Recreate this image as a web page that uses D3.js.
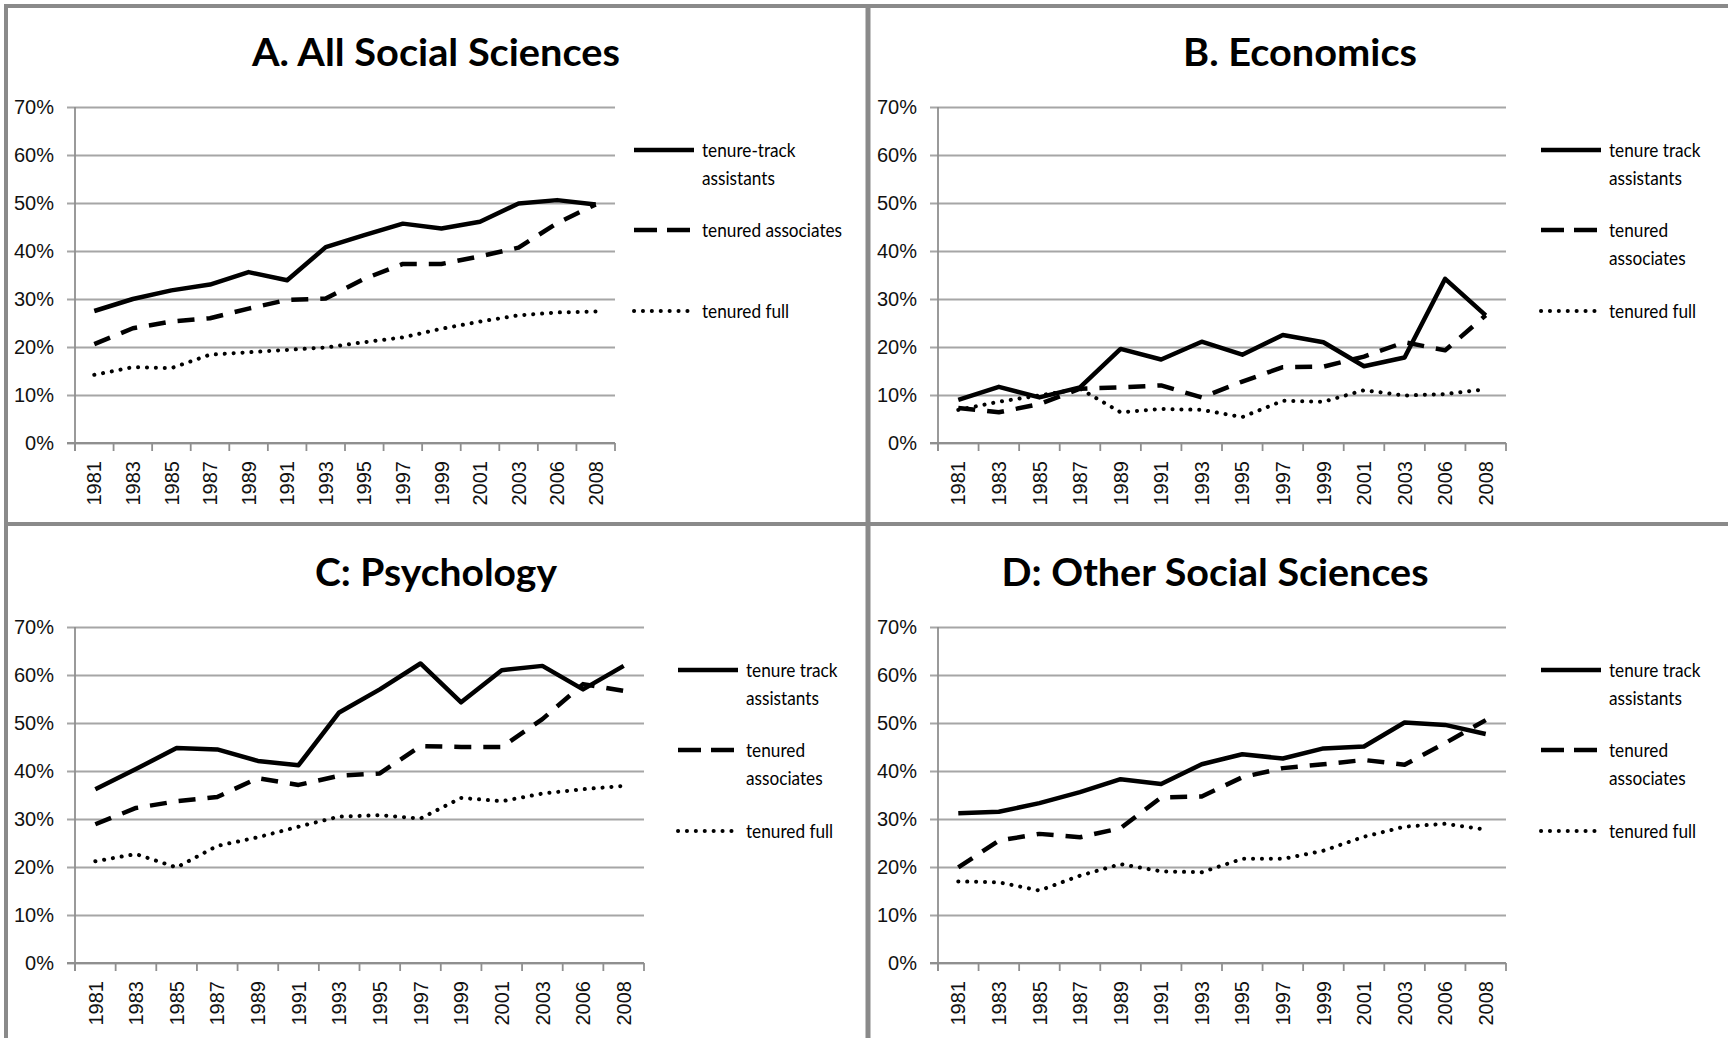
<!DOCTYPE html>
<html>
<head>
<meta charset="utf-8">
<script src="https://cdn.jsdelivr.net/npm/d3@7"></script>
<style>
  html, body { margin: 0; padding: 0; background: #fff; }
  svg { display: block; }
</style>
</head>
<body>
<svg id="chart" width="1728" height="1038"></svg>
<script>
// ---------------- DATA ----------------
const years = ["1981","1983","1985","1987","1989","1991","1993","1995","1997","1999","2001","2003","2006","2008"];
const yTickValues = [0, 10, 20, 30, 40, 50, 60, 70];

const panelTitles = ["A. All Social Sciences", "B. Economics", "C: Psychology", "D: Other Social Sciences"];

// A. All Social Sciences
const allAssistants  = [27.5, 30.0, 31.8, 33.0, 35.6, 33.9, 40.8, 43.3, 45.7, 44.7, 46.1, 49.9, 50.6, 49.7];
const allAssociates  = [20.6, 23.9, 25.3, 26.0, 28.0, 29.8, 30.1, 34.2, 37.3, 37.3, 38.9, 40.7, 45.8, 49.7];
const allFull        = [14.2, 15.8, 15.6, 18.4, 18.9, 19.4, 19.9, 21.0, 22.0, 23.8, 25.3, 26.6, 27.2, 27.4];

// B. Economics
const econAssistants = [9.0, 11.7, 9.5, 11.6, 19.6, 17.4, 21.1, 18.4, 22.5, 21.0, 16.0, 17.8, 34.2, 26.6];
const econAssociates = [7.3, 6.4, 8.1, 11.3, 11.6, 12.0, 9.5, 12.8, 15.8, 15.9, 18.0, 21.0, 19.3, 26.6];
const econFull       = [6.9, 8.6, 9.9, 11.3, 6.4, 7.1, 6.9, 5.4, 8.8, 8.6, 11.0, 9.9, 10.2, 11.2];

// C: Psychology
const psyAssistants  = [36.2, 40.4, 44.8, 44.5, 42.1, 41.2, 52.2, 57.0, 62.4, 54.3, 61.0, 61.9, 57.0, 61.9];
const psyAssociates  = [28.9, 32.3, 33.7, 34.6, 38.5, 37.1, 39.0, 39.5, 45.2, 45.0, 45.0, 50.8, 58.1, 56.7];
const psyFull        = [21.2, 22.7, 19.9, 24.4, 26.2, 28.4, 30.5, 30.8, 30.1, 34.4, 33.7, 35.3, 36.2, 36.9];

// D: Other Social Sciences
const othAssistants  = [31.2, 31.5, 33.3, 35.6, 38.3, 37.3, 41.4, 43.5, 42.6, 44.7, 45.1, 50.1, 49.6, 47.7];
const othAssociates  = [19.9, 25.5, 26.9, 26.2, 28.1, 34.5, 34.7, 38.7, 40.6, 41.4, 42.3, 41.3, 45.8, 50.6];
const othFull        = [17.0, 16.8, 15.1, 18.2, 20.6, 19.1, 18.9, 21.7, 21.7, 23.4, 26.3, 28.4, 29.0, 27.8];

const legendA   = [["tenure-track", "assistants"], ["tenured associates"], ["tenured full"]];
const legendBCD = [["tenure track", "assistants"], ["tenured", "associates"], ["tenured full"]];

// ---------------- LAYOUT ----------------
const panels = [
  { title: panelTitles[0], series: [allAssistants, allAssociates, allFull], legend: legendA,
    top: 0,   x0: 75,  x1: 615,  titleX: 436,  titleW: 368, lineX: 634,  textX: 702 },
  { title: panelTitles[1], series: [econAssistants, econAssociates, econFull], legend: legendBCD,
    top: 0,   x0: 938, x1: 1506, titleX: 1300, titleW: 234, lineX: 1541, textX: 1609 },
  { title: panelTitles[2], series: [psyAssistants, psyAssociates, psyFull], legend: legendBCD,
    top: 520, x0: 75,  x1: 644,  titleX: 436,  titleW: 242, lineX: 678,  textX: 746 },
  { title: panelTitles[3], series: [othAssistants, othAssociates, othFull], legend: legendBCD,
    top: 520, x0: 938, x1: 1506, titleX: 1215, titleW: 427, lineX: 1541, textX: 1609 }
];

const styles = [
  { width: 4.5, dash: null,        cap: "butt",  legendDash: null },
  { width: 4.5, dash: "17,12",     cap: "butt",  legendDash: "23,10" },
  { width: 4,   dash: "0.1,8.8",   cap: "round", legendDash: "0.1,8.8" }
];
const legendOffsets = [150, 230, 311];

const gridColor = "#a6a6a6";
const axisColor = "#8f8f8f";
const tickFont = "'Liberation Sans', Arial, sans-serif";

const svg = d3.select("#chart");

// frame / dividers
svg.append("path")
  .attr("d", "M6,1038 V6 H1728")
  .attr("fill", "none").attr("stroke", "#8a8a8a").attr("stroke-width", 4);
svg.append("line").attr("x1", 868).attr("x2", 868).attr("y1", 6).attr("y2", 1038)
  .attr("stroke", "#8a8a8a").attr("stroke-width", 5);
svg.append("line").attr("x1", 6).attr("x2", 1728).attr("y1", 524).attr("y2", 524)
  .attr("stroke", "#8a8a8a").attr("stroke-width", 4);

panels.forEach(p => {
  const g = svg.append("g");
  const yTop = p.top + 107, yBot = p.top + 443;
  const x = d3.scaleBand().domain(years).range([p.x0, p.x1]).padding(0);
  const y = d3.scaleLinear().domain([0, 70]).range([yBot, yTop]);

  // title
  const t = g.append("text")
    .attr("x", p.titleX).attr("y", p.top + 66)
    .attr("text-anchor", "middle")
    .style("font-family", "Lato, 'Open Sans', sans-serif")
    .style("font-weight", 700).style("font-size", "38px")
    .text(p.title);
  t.attr("textLength", p.titleW).attr("lengthAdjust", "spacingAndGlyphs");

  // y axis with gridlines
  const yAxisG = g.append("g")
    .attr("transform", `translate(${p.x0 - 8},0)`)
    .call(d3.axisLeft(y).tickValues(yTickValues).tickFormat(d => d + "%")
      .tickSizeInner(-(p.x1 - p.x0 + 8)).tickSizeOuter(0).tickPadding(13));
  yAxisG.select(".domain").remove();
  yAxisG.selectAll(".tick line").attr("stroke", gridColor).attr("stroke-width", 1.8);
  yAxisG.selectAll(".tick text")
    .style("font-family", tickFont).style("font-size", "20px").attr("fill", "#111");

  // vertical axis line
  g.append("line").attr("x1", p.x0).attr("x2", p.x0).attr("y1", yTop).attr("y2", yBot + 8)
    .attr("stroke", axisColor).attr("stroke-width", 1.8);

  // x axis labels
  const xAxisG = g.append("g")
    .attr("transform", `translate(0,${yBot})`)
    .call(d3.axisBottom(x).tickSize(0).tickPadding(0));
  xAxisG.select(".domain").remove();
  xAxisG.selectAll(".tick text")
    .attr("transform", "rotate(-90)")
    .attr("text-anchor", "end")
    .attr("x", -18).attr("y", 0).attr("dy", "0.36em")
    .style("font-family", tickFont).style("font-size", "20px").attr("fill", "#111");

  // boundary tick marks (Excel-style between categories)
  const bounds = years.map(yr => x(yr)).concat([p.x1]);
  g.selectAll(".bt").data(bounds).join("line")
    .attr("x1", d => d).attr("x2", d => d)
    .attr("y1", yBot).attr("y2", yBot + 8)
    .attr("stroke", axisColor).attr("stroke-width", 1.8);
  g.append("line").attr("x1", p.x0 - 8).attr("x2", p.x1).attr("y1", yBot).attr("y2", yBot)
    .attr("stroke", axisColor).attr("stroke-width", 1.8);

  // series lines
  const line = d3.line()
    .x((d, i) => x(years[i]) + x.bandwidth() / 2)
    .y(d => y(d));
  p.series.forEach((s, k) => {
    const st = styles[k];
    g.append("path").datum(s)
      .attr("d", line)
      .attr("fill", "none").attr("stroke", "#000")
      .attr("stroke-width", st.width)
      .attr("stroke-linejoin", "round")
      .attr("stroke-linecap", st.cap)
      .attr("stroke-dasharray", st.dash);
  });

  // legend
  p.legend.forEach((labels, k) => {
    const st = styles[k];
    const ly = p.top + legendOffsets[k];
    g.append("line")
      .attr("x1", p.lineX).attr("x2", p.lineX + 60)
      .attr("y1", ly).attr("y2", ly)
      .attr("stroke", "#000").attr("stroke-width", st.width)
      .attr("stroke-linecap", st.cap)
      .attr("stroke-dasharray", st.legendDash);
    labels.forEach((lab, j) => {
      const tt = g.append("text")
        .attr("x", p.textX).attr("y", ly + 7 + j * 28)
        .style("font-family", "Lato, 'Open Sans', sans-serif")
        .style("font-size", "20px").attr("fill", "#000")
        .text(lab);
      const w = tt.node().getComputedTextLength();
      tt.attr("textLength", w * 0.86).attr("lengthAdjust", "spacingAndGlyphs");
    });
  });
});
</script>
</body>
</html>
